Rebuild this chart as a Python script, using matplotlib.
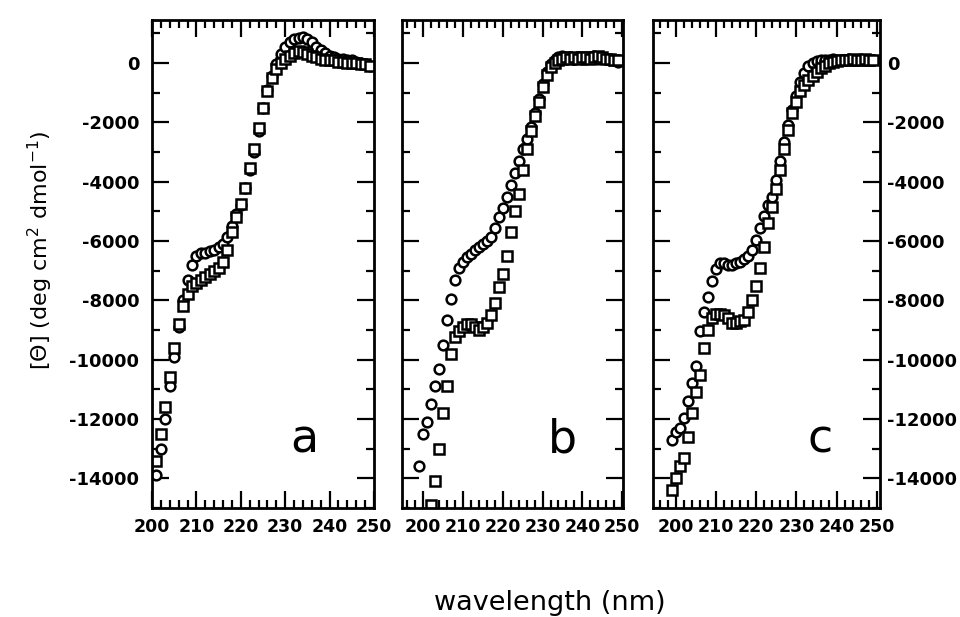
import matplotlib
matplotlib.use("Agg")
import matplotlib.pyplot as plt
from matplotlib.ticker import MultipleLocator

plt.rcParams['font.family'] = ['DejaVu Sans']
plt.rcParams['axes.unicode_minus'] = False

# wavelength grids (nm) and ellipticity values
wl_a_circ = list(range(201, 250))
a_circ = [-13900, -13000, -12000, -10900, -9900, -8900, -8000, -7300, -6800, -6500,
          -6400, -6400, -6350, -6300, -6200, -6100, -5850, -5500, -5100, -4800,
          -4200, -3600, -3000, -2300, -1500, -900, -450, -50, 300, 550,
          700, 800, 850, 880, 820, 700, 550, 450, 350, 250,
          200, 150, 150, 100, 100, 50, 0, -50, -100]
wl_a_sq = list(range(201, 250))
a_sq = [-13400, -12500, -11600, -10600, -9600, -8800, -8200, -7800, -7500, -7400,
        -7300, -7200, -7100, -7000, -6900, -6700, -6300, -5700, -5200, -4750,
        -4200, -3550, -2900, -2200, -1500, -950, -500, -200, 0, 150,
        250, 350, 400, 380, 320, 250, 200, 150, 100, 100,
        100, 50, 50, 0, 0, 0, -50, -50, -100]

wl_b_circ = list(range(199, 250))
b_circ = [-13600, -12500, -12100, -11500, -10900, -10300, -9500, -8650, -7950, -7300,
          -6900, -6700, -6550, -6450, -6300, -6200, -6100, -6000, -5850, -5550,
          -5200, -4900, -4500, -4100, -3700, -3300, -2900, -2550, -2150, -1700,
          -1200, -700, -300, -50, 100, 200, 250, 200, 200, 150,
          200, 150, 150, 200, 250, 150, 200, 150, 100, 100, 50]
wl_b_sq = list(range(202, 250))
b_sq = [-14900, -14100, -13000, -11800, -10900, -9800, -9250, -9050, -8900, -8800,
        -8800, -8900, -9000, -8900, -8750, -8500, -8100, -7550, -7100, -6500,
        -5700, -5000, -4400, -3600, -2900, -2300, -1800, -1300, -800, -400,
        -150, 0, 100, 150, 200, 150, 200, 150, 200, 200,
        150, 200, 250, 200, 150, 150, 100, 100]

wl_c_circ = list(range(199, 250))
c_circ = [-12700, -12450, -12300, -11950, -11400, -10800, -10200, -9050, -8400, -7900,
          -7350, -6950, -6750, -6750, -6800, -6800, -6750, -6700, -6600, -6500,
          -6300, -5950, -5550, -5150, -4800, -4500, -3950, -3300, -2650, -2100,
          -1600, -1100, -650, -350, -100, 0, 80, 100, 100, 100,
          120, 100, 100, 100, 120, 100, 100, 120, 100, 100, 100]
wl_c_sq = list(range(199, 250))
c_sq = [-14400, -14000, -13600, -13300, -12600, -11800, -11100, -10500, -9600, -9000,
        -8600, -8450, -8450, -8500, -8600, -8750, -8750, -8700, -8650, -8400,
        -8000, -7500, -6900, -6200, -5400, -4850, -4250, -3600, -2900, -2250,
        -1700, -1300, -950, -750, -580, -450, -300, -180, -90, 0,
        50, 80, 100, 100, 100, 120, 100, 100, 120, 100, 100]

panel_letters = ["a", "b", "c"]
x_limits = [(200, 250), (194.7, 250.2), (194.3, 250.8)]
y_limits = (-15000, 1450)

W, H = 960, 617
fig = plt.figure(figsize=(W / 100, H / 100), dpi=100)
bottom = (H - 508) / H
height = 488 / H
lefts = [152, 402, 653]
widths = [222, 221, 227]
letter_x = [0.685, 0.727, 0.736]

data = [
    (wl_a_circ, a_circ, wl_a_sq, a_sq),
    (wl_b_circ, b_circ, wl_b_sq, b_sq),
    (wl_c_circ, c_circ, wl_c_sq, c_sq),
]

for i in range(3):
    ax = fig.add_axes([lefts[i] / W, bottom, widths[i] / W, height])
    wc, yc, ws, ys = data[i]
    ax.plot(wc, yc, linestyle='none', marker='o', ms=7, mfc='white',
            mec='black', mew=1.8)
    ax.plot(ws, ys, linestyle='none', marker='s', ms=6.5, mfc='white',
            mec='black', mew=1.8)

    ax.set_xlim(*x_limits[i])
    ax.set_ylim(*y_limits)
    ax.xaxis.set_major_locator(MultipleLocator(10))
    ax.xaxis.set_minor_locator(MultipleLocator(2))
    ax.yaxis.set_major_locator(MultipleLocator(2000))
    ax.yaxis.set_minor_locator(MultipleLocator(1000))

    for sp in ax.spines.values():
        sp.set_linewidth(2.0)

    ax.tick_params(which='both', direction='in', top=True, bottom=True,
                   left=True, right=True, width=1.6)
    ax.tick_params(which='major', length=12)
    ax.tick_params(which='minor', length=6)
    ax.tick_params(axis='x', which='major', labelsize=12.5, pad=7)
    ax.tick_params(axis='y', which='major', labelsize=13)

    if i == 0:
        ax.tick_params(axis='y', labelleft=True, labelright=False, pad=9)
    elif i == 1:
        ax.tick_params(axis='y', labelleft=False, labelright=False)
    else:
        ax.tick_params(axis='y', labelleft=False, labelright=True, pad=5)

    for lbl in ax.get_xticklabels() + ax.get_yticklabels():
        lbl.set_fontweight('bold')

    ax.text(letter_x[i], 0.113, panel_letters[i], transform=ax.transAxes,
            fontsize=33, ha='center', va='baseline')

fig.text(40 / W, 1 - 250 / H, "[\u0398] (deg cm$^2$ dmol$^{-1}$)", rotation=90,
         fontsize=16, ha='center', va='center')
fig.text(550 / W, 1 - 603 / H, "wavelength (nm)", fontsize=19.5,
         ha='center', va='center')

fig.savefig("out.png", dpi=100)
plt.close(fig)
